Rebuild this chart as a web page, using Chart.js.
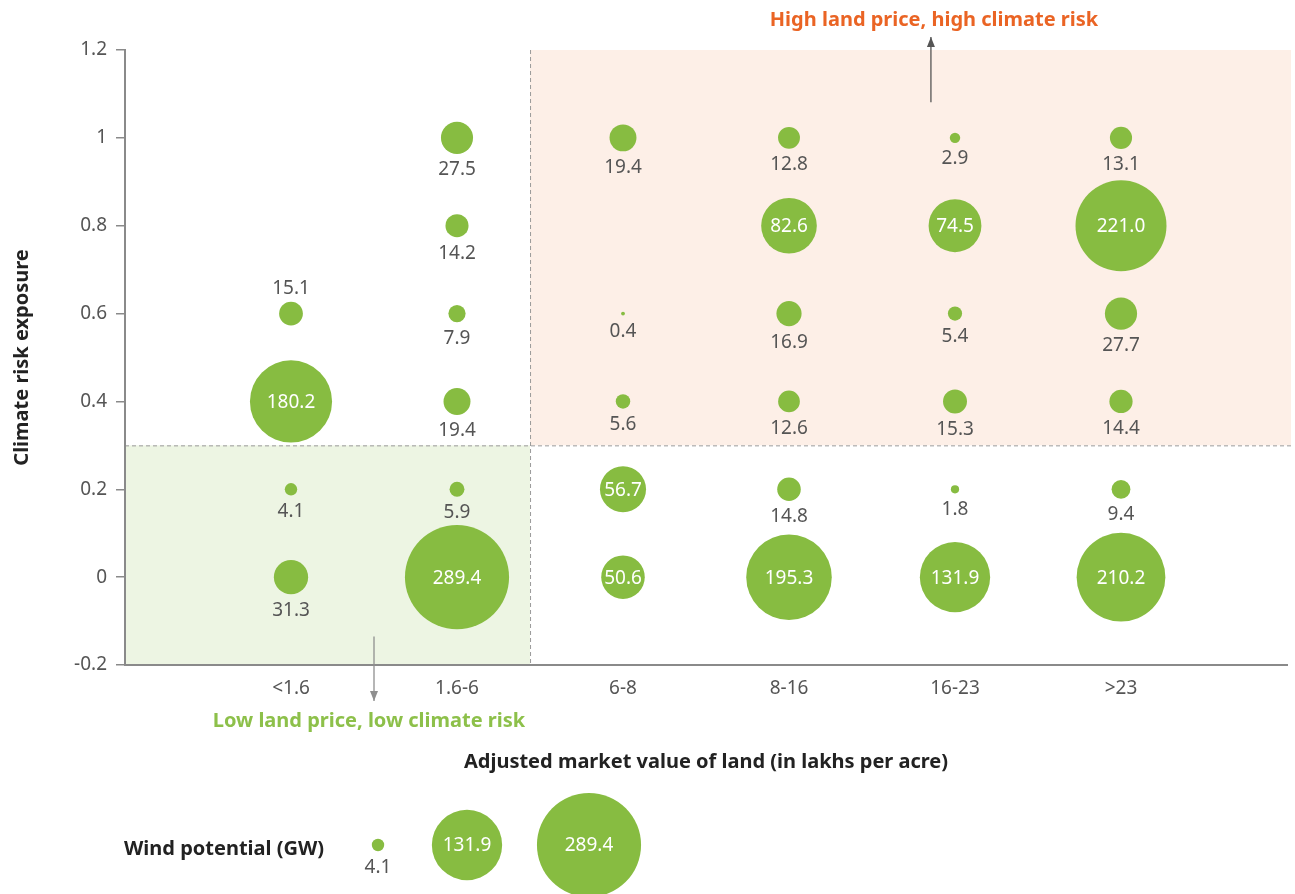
<!DOCTYPE html>
<html>
<head>
<meta charset="utf-8">
<script src="https://cdn.jsdelivr.net/npm/chart.js@4"></script>
<style>
  body { margin: 0; background: #fff; }
  #wrap { width: 1295px; height: 894px; position: relative; }
</style>
</head>
<body>
<div id="wrap"><canvas id="chart"></canvas></div>
<script>
// Categorías de precio de tierra y niveles de riesgo
const categories = ['<1.6', '1.6-6', '6-8', '8-16', '16-23', '>23'];
const riskLevels = [1, 0.8, 0.6, 0.4, 0.2, 0];

// Potencial eólico (GW) por categoría, en el orden de riskLevels
const windLt1_6 = [null, null, 15.1, 180.2, 4.1, 31.3];
const wind1_6to6 = [27.5, 14.2, 7.9, 19.4, 5.9, 289.4];
const wind6to8 = [19.4, null, 0.4, 5.6, 56.7, 50.6];
const wind8to16 = [12.8, 82.6, 16.9, 12.6, 14.8, 195.3];
const wind16to23 = [2.9, 74.5, 5.4, 15.3, 1.8, 131.9];
const windGt23 = [13.1, 221.0, 27.7, 14.4, 9.4, 210.2];
const windColumns = [windLt1_6, wind1_6to6, wind6to8, wind8to16, wind16to23, windGt23];

const legendValues = [4.1, 131.9, 289.4];
const labelAbove = [[0, 0.6]];   // etiqueta encima de la burbuja

const GREEN = '#87bc41';
const FONT = "'Noto Sans', sans-serif";
const NUM_SIZE = 19;
const BOLD_SIZE = 20;

function radiusFor(v) {
    return 3.06 * Math.sqrt(v);
}

// Construir puntos de la burbuja
const points = [];
windColumns.forEach((col, ci) => {
    col.forEach((v, ri) => {
        if (v === null) return;
        points.push({
            x: ci + 1,
            y: riskLevels[ri],
            r: radiusFor(v),
            v: v,
            above: labelAbove.some(a => a[0] === ci && a[1] === riskLevels[ri])
        });
    });
});

// Zonas de fondo, etiquetas, flechas y leyenda
const zonesPlugin = {
    id: 'zones',
    beforeDraw(chart) {
        const { ctx, chartArea, scales: { x, y } } = chart;
        const xs = x.getPixelForValue(2.44);
        const ys = y.getPixelForValue(0.3);
        ctx.save();
        ctx.fillStyle = '#fdefe7';
        ctx.fillRect(xs, chartArea.top, chartArea.right + 4 - xs, ys - chartArea.top);
        ctx.fillStyle = '#edf5e3';
        ctx.fillRect(chartArea.left, ys, xs - chartArea.left, chartArea.bottom - ys);
        ctx.strokeStyle = '#9a9a9a';
        ctx.lineWidth = 1;
        ctx.setLineDash([4, 3]);
        ctx.beginPath();
        ctx.moveTo(chartArea.left, ys + 0.5);
        ctx.lineTo(chartArea.right + 4, ys + 0.5);
        ctx.moveTo(xs + 0.5, chartArea.top);
        ctx.lineTo(xs + 0.5, chartArea.bottom);
        ctx.stroke();
        ctx.restore();
    },
    afterDatasetsDraw(chart) {
        const { ctx, scales: { x, y } } = chart;
        const meta = chart.getDatasetMeta(0);
        ctx.save();
        ctx.font = NUM_SIZE + 'px ' + FONT;
        ctx.textAlign = 'center';
        ctx.textBaseline = 'middle';
        meta.data.forEach((el, i) => {
            const p = points[i];
            const txt = p.v.toFixed(1);
            if (p.v >= 50) {
                ctx.fillStyle = '#ffffff';
                ctx.fillText(txt, el.x, el.y + 1);
            } else if (p.above) {
                ctx.fillStyle = '#555555';
                ctx.fillText(txt, el.x, el.y - p.r - 13);
            } else {
                ctx.fillStyle = '#555555';
                ctx.fillText(txt, el.x, el.y + p.r + 16);
            }
        });

        // Flechas y textos de cuadrantes
        const drawArrow = (ax, y1, y2, color) => {
            ctx.strokeStyle = color;
            ctx.fillStyle = color;
            ctx.lineWidth = 1.3;
            ctx.beginPath();
            ctx.moveTo(ax, y1);
            ctx.lineTo(ax, y2);
            ctx.stroke();
            const dir = y2 < y1 ? -1 : 1;
            ctx.beginPath();
            ctx.moveTo(ax, y2);
            ctx.lineTo(ax - 4, y2 - dir * 10);
            ctx.lineTo(ax + 4, y2 - dir * 10);
            ctx.closePath();
            ctx.fill();
        };
        const hx = x.getPixelForValue(4.855);
        drawArrow(hx, y.getPixelForValue(1.081), 37, '#555555');
        const lx = x.getPixelForValue(1.5);
        drawArrow(lx, y.getPixelForValue(-0.135), 701, '#8f8f8f');

        ctx.font = 'bold ' + BOLD_SIZE + 'px ' + FONT;
        ctx.fillStyle = '#ea6424';
        ctx.fillText('High land price, high climate risk', 934, 20);
        ctx.fillStyle = '#8dc04a';
        ctx.fillText('Low land price, low climate risk', 369, 721);

        // Leyenda de tamaños
        ctx.textAlign = 'left';
        ctx.fillStyle = '#222222';
        ctx.fillText('Wind potential (GW)', 124, 849);
        const lxPos = [378, 467, 589];
        legendValues.forEach((v, i) => {
            const r = radiusFor(v);
            ctx.fillStyle = GREEN;
            ctx.beginPath();
            ctx.arc(lxPos[i], 845, r, 0, Math.PI * 2);
            ctx.fill();
            ctx.textAlign = 'center';
            ctx.font = NUM_SIZE + 'px ' + FONT;
            if (v >= 50) {
                ctx.fillStyle = '#ffffff';
                ctx.fillText(v.toFixed(1), lxPos[i], 846);
            } else {
                ctx.fillStyle = '#555555';
                ctx.fillText(v.toFixed(1), lxPos[i], 845 + r + 16);
            }
        });
        ctx.restore();
    }
};

const ctx = document.getElementById('chart').getContext('2d');
const bubbleChart = new Chart(ctx, {
    type: 'bubble',
    data: {
        datasets: [{
            label: 'Wind potential (GW)',
            data: points,
            backgroundColor: GREEN,
            borderWidth: 0,
            hoverBorderWidth: 0
        }]
    },
    options: {
        responsive: true,
        maintainAspectRatio: false,
        animation: false,
        layout: { autoPadding: false, padding: { top: 50, right: 8, bottom: 89, left: 0 } },
        plugins: {
            legend: { display: false },
            tooltip: { enabled: false }
        },
        scales: {
            x: {
                type: 'linear',
                min: 0,
                max: 7,
                afterBuildTicks: s => { s.ticks = categories.map((c, i) => ({ value: i + 1 })); },
                afterFit: s => { s.height = 140; },
                ticks: {
                    color: '#555555',
                    font: { family: FONT, size: NUM_SIZE },
                    padding: 12,
                    autoSkip: false,
                    maxRotation: 0,
                    callback: v => categories[v - 1] || ''
                },
                grid: { drawOnChartArea: false, drawTicks: false },
                border: { color: '#8a8a8a', width: 2 },
                title: {
                    display: true,
                    text: 'Adjusted market value of land (in lakhs per acre)',
                    color: '#222222',
                    font: { family: FONT, size: BOLD_SIZE, weight: 'bold' },
                    padding: { bottom: 31 }
                }
            },
            y: {
                min: -0.2,
                max: 1.2,
                afterFit: s => { s.width = 125; },
                ticks: {
                    stepSize: 0.2,
                    color: '#555555',
                    font: { family: FONT, size: NUM_SIZE },
                    padding: 9,
                    callback: v => String(Math.round(v * 10) / 10)
                },
                grid: { drawOnChartArea: false, tickLength: 9, color: '#8a8a8a', lineWidth: 1.5 },
                border: { color: '#8a8a8a', width: 2 },
                title: {
                    display: true,
                    text: 'Climate risk exposure',
                    color: '#222222',
                    font: { family: FONT, size: BOLD_SIZE, weight: 'bold' },
                    padding: { top: 10 }
                }
            }
        }
    },
    plugins: [zonesPlugin]
});
</script>
</body>
</html>
